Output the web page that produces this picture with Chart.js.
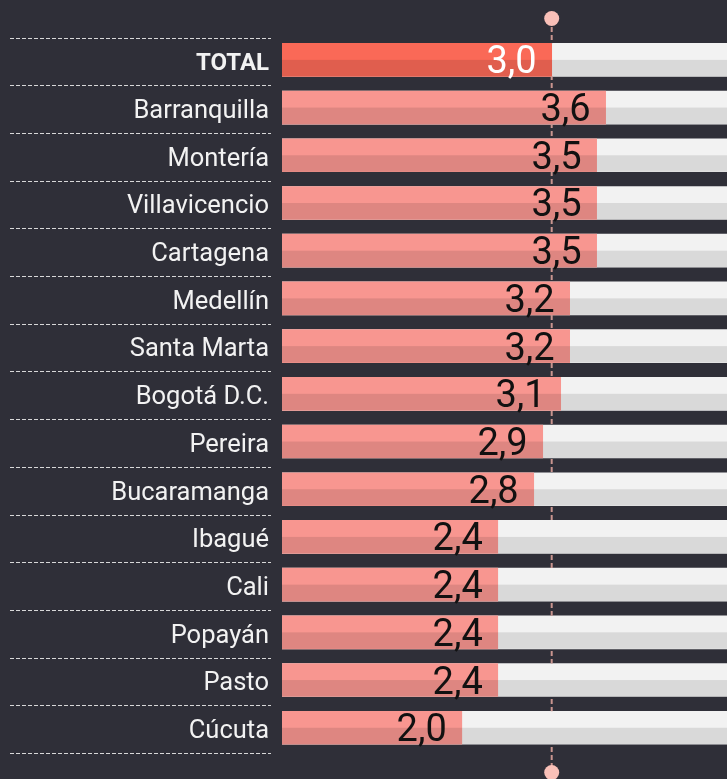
<!DOCTYPE html>
<html>
<head>
<meta charset="utf-8">
<script src="https://cdn.jsdelivr.net/npm/chart.js@4.4.1/dist/chart.umd.min.js"></script>
<style>
  html, body { margin: 0; padding: 0; background: #2f2f38; }
  #wrap { width: 727px; height: 779px; }
</style>
</head>
<body>
<div id="wrap"><canvas id="chart" width="727" height="779"></canvas></div>
<script>
const cities = ['TOTAL', 'Barranquilla', 'Montería', 'Villavicencio', 'Cartagena', 'Medellín',
  'Santa Marta', 'Bogotá D.C.', 'Pereira', 'Bucaramanga', 'Ibagué', 'Cali', 'Popayán', 'Pasto', 'Cúcuta'];
const values = [3.0, 3.6, 3.5, 3.5, 3.5, 3.2, 3.2, 3.1, 2.9, 2.8, 2.4, 2.4, 2.4, 2.4, 2.0];
const scaleMax = 4.95;
const referenceValue = 3.0;
const trackValues = cities.map(() => scaleMax);

const COLORS = {
  total: '#fa6957',
  bar: '#f89690',
  track: '#f2f2f2',
  shade: 'rgba(0,0,0,0.1)',
  label: '#f2f2f2',
  dash: '#d8d8d8',
  refLine: '#c9958f',
  refDot: '#f9c0b8'
};

function fmt(v) {
  return v.toFixed(1).replace('.', ',');
}

// darker bottom half on every bar (track only where it is not covered)
const shadePlugin = {
  id: 'shade',
  afterDatasetsDraw(chart) {
    const ctx = chart.ctx;
    const valueBars = chart.getDatasetMeta(0).data;
    const trackBars = chart.getDatasetMeta(1).data;
    ctx.save();
    ctx.fillStyle = COLORS.shade;
    valueBars.forEach((bar, i) => {
      ctx.fillRect(bar.base, bar.y, bar.x - bar.base, bar.height / 2);
      const t = trackBars[i];
      ctx.fillRect(bar.x, t.y, t.x - bar.x, t.height / 2);
    });
    ctx.restore();
  }
};

// value labels inside the bars
const valueLabels = {
  id: 'valueLabels',
  afterDatasetsDraw(chart) {
    const ctx = chart.ctx;
    const meta = chart.getDatasetMeta(0);
    ctx.save();
    ctx.font = '38px Roboto';
    ctx.textAlign = 'right';
    ctx.textBaseline = 'alphabetic';
    meta.data.forEach((bar, i) => {
      ctx.fillStyle = i === 0 ? '#ffffff' : '#111111';
      ctx.fillText(fmt(values[i]), bar.x - 15, bar.y + 13.5);
    });
    ctx.restore();
  }
};

// dashed separators on the label side
const separators = {
  id: 'separators',
  beforeDatasetsDraw(chart) {
    const ctx = chart.ctx;
    const y = chart.scales.y;
    const half = (y.getPixelForValue(1) - y.getPixelForValue(0)) / 2;
    ctx.save();
    ctx.strokeStyle = COLORS.dash;
    ctx.lineWidth = 1;
    ctx.setLineDash([4, 2]);
    for (let i = 0; i <= cities.length; i++) {
      const py = Math.round(y.getPixelForValue(i) - half + 1.5) + 0.5;
      ctx.beginPath();
      ctx.moveTo(10, py);
      ctx.lineTo(271, py);
      ctx.stroke();
    }
    ctx.restore();
  }
};

// reference line at 3,0: only visible in the gaps between bars
const referenceLine = {
  id: 'referenceLine',
  afterDatasetsDraw(chart) {
    const ctx = chart.ctx;
    const rx = chart.scales.x.getPixelForValue(referenceValue);
    const bars = chart.getDatasetMeta(1).data;
    const top = 19, bottom = 772;
    ctx.save();
    ctx.beginPath();
    ctx.rect(0, 0, chart.width, chart.height);
    bars.forEach(b => ctx.rect(b.base, b.y - b.height / 2, b.x - b.base, b.height));
    ctx.clip('evenodd');
    ctx.strokeStyle = COLORS.refLine;
    ctx.lineWidth = 2;
    ctx.setLineDash([5, 3]);
    ctx.beginPath();
    ctx.moveTo(rx, top);
    ctx.lineTo(rx, bottom);
    ctx.stroke();
    ctx.restore();

    ctx.save();
    ctx.fillStyle = COLORS.refDot;
    [18.5, 772.5].forEach(cy => {
      ctx.beginPath();
      ctx.arc(rx, cy, 7.5, 0, Math.PI * 2);
      ctx.fill();
    });
    ctx.restore();
  }
};

new Chart(document.getElementById('chart'), {
  type: 'bar',
  data: {
    labels: cities,
    datasets: [
      {
        label: 'Valor',
        data: values,
        backgroundColor: values.map((v, i) => i === 0 ? COLORS.total : COLORS.bar),
        borderWidth: 0,
        barThickness: 33,
        grouped: false
      },
      {
        label: 'Fondo',
        data: trackValues,
        backgroundColor: COLORS.track,
        borderWidth: 0,
        barThickness: 33,
        grouped: false
      }
    ]
  },
  options: {
    indexAxis: 'y',
    responsive: false,
    animation: false,
    layout: { padding: { top: 36, bottom: 23, left: 0, right: 0 } },
    plugins: {
      legend: { display: false },
      tooltip: { enabled: false }
    },
    scales: {
      x: {
        display: false,
        min: 0,
        max: scaleMax
      },
      y: {
        grid: { display: false, drawTicks: false },
        border: { display: false },
        afterFit(scale) { scale.width = 282; },
        ticks: {
          color: COLORS.label,
          padding: 13,
          labelOffset: 4,
          font: ctx => ctx.index === 0
            ? { family: 'Roboto', size: 24, weight: 'bold' }
            : { family: 'Roboto', size: 25.5 }
        }
      }
    }
  },
  plugins: [separators, shadePlugin, valueLabels, referenceLine]
});
</script>
</body>
</html>
